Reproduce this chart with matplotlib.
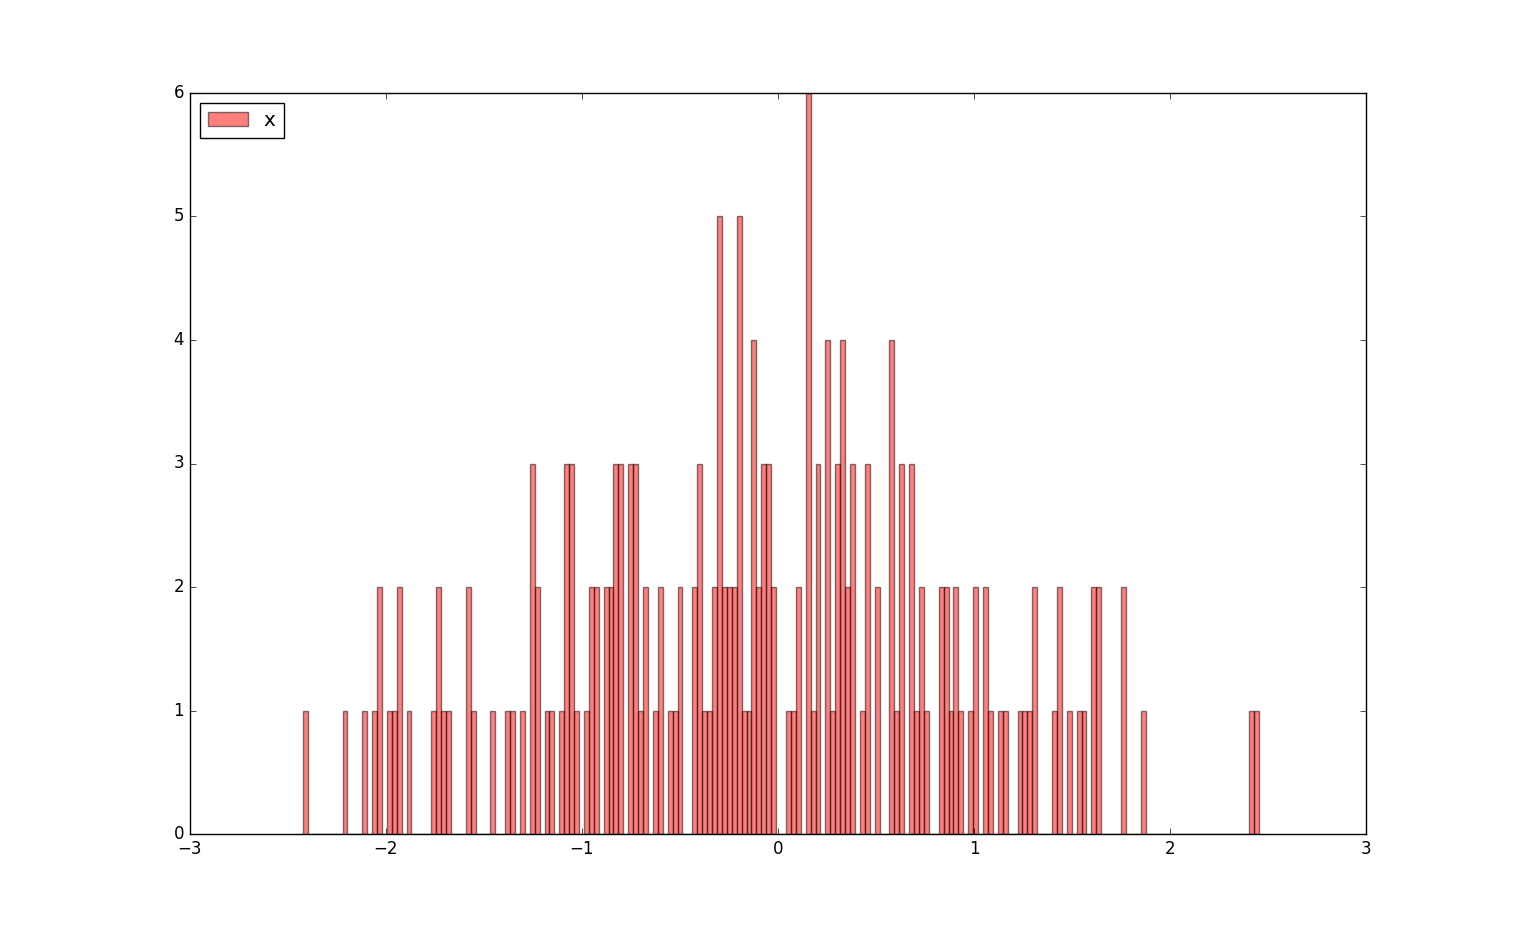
import numpy as np
import matplotlib
matplotlib.use("Agg")
import matplotlib.pyplot as plt

# old-school look: ticks inside, square legend box
plt.style.use("classic")

# histogram layout
n_bins = 194
x_lo, x_hi = -2.4219, 2.4529

# non-empty bins: bin number -> count
bin_idx = [0, 8, 12, 14, 15, 17, 18, 19, 21, 26, 27, 28, 29, 33, 34, 38,
           41, 42, 44, 46, 47, 49, 50, 52, 53, 54, 55, 57, 58, 59, 61, 62,
           63, 64, 66, 67, 68, 69, 71, 72, 74, 75, 76, 79, 80, 81, 82, 83,
           84, 85, 86, 87, 88, 89, 90, 91, 92, 93, 94, 95, 98, 99, 100, 102,
           103, 104, 106, 107, 108, 109, 110, 111, 113, 114, 116, 119, 120, 121, 123, 124,
           125, 126, 129, 130, 131, 132, 133, 135, 136, 138, 139, 141, 142, 145, 146, 147,
           148, 152, 153, 155, 157, 158, 160, 161, 166, 170, 192, 193]
bin_count = [1, 1, 1, 1, 2, 1, 1, 2, 1, 1, 2, 1, 1, 2, 1, 1,
             1, 1, 1, 3, 2, 1, 1, 1, 3, 3, 1, 1, 2, 2, 2, 2,
             3, 3, 3, 3, 1, 2, 1, 2, 1, 1, 2, 2, 3, 1, 1, 2,
             5, 2, 2, 2, 5, 1, 1, 4, 2, 3, 3, 2, 1, 1, 2, 6,
             1, 3, 4, 1, 3, 4, 2, 3, 1, 3, 2, 4, 1, 3, 3, 1,
             2, 1, 2, 2, 1, 2, 1, 1, 2, 2, 1, 1, 1, 1, 1, 1,
             2, 1, 2, 1, 1, 1, 2, 2, 2, 1, 1, 1]

edges = np.linspace(x_lo, x_hi, n_bins + 1)
centers = (edges[:-1] + edges[1:]) / 2
x = centers[bin_idx]

fig = plt.figure(figsize=(15.18, 9.27), dpi=100)
ax = fig.add_subplot(111)
ax.hist(x, bins=edges, weights=bin_count, color="red", alpha=0.5, label="x")
ax.legend(loc="upper left")

fig.savefig("out.png", dpi=100, facecolor="white")
